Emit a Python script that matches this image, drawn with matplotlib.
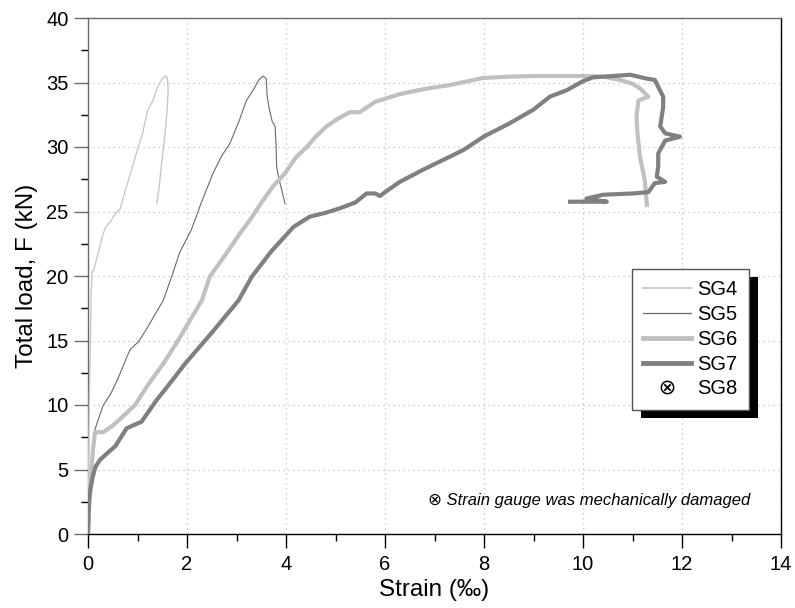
import matplotlib
matplotlib.use("Agg")
import matplotlib.pyplot as plt
from matplotlib.lines import Line2D
from matplotlib import patheffects
from matplotlib.ticker import MultipleLocator

plt.rcParams['font.family'] = ['Liberation Sans', 'DejaVu Sans']

# Strain gauge readings: strain (permille) vs total load (kN)
sg4_strain = [0, 0.01, 0.02, 0.03, 0.05, 0.06, 0.08, 0.12, 0.15, 0.22, 0.3, 0.36, 0.45,
              0.55, 0.65, 0.72, 0.8, 0.9, 1.0, 1.1, 1.2, 1.3, 1.4, 1.5, 1.56, 1.6, 1.62,
              1.6, 1.57, 1.56, 1.52, 1.48, 1.44, 1.39]
sg4_load = [0, 4, 8, 11, 15, 18, 20.3, 20.5, 21, 22, 23.2, 23.8, 24.2, 24.8, 25.2, 26.2,
            27.2, 28.5, 29.8, 31, 32.8, 33.5, 34.6, 35.3, 35.5, 35.4, 34.5, 33, 31.6,
            31.2, 29.8, 28.5, 27, 25.6]

sg5_strain = [0, 0.02, 0.05, 0.1, 0.14, 0.2, 0.31, 0.45, 0.6, 0.75, 0.85, 1.02, 1.2, 1.35,
              1.52, 1.69, 1.85, 2.09, 2.3, 2.53, 2.7, 2.87, 3.05, 3.2, 3.35, 3.45, 3.54,
              3.6, 3.62, 3.66, 3.72, 3.78, 3.8, 3.81, 3.86, 3.93, 3.98]
sg5_load = [0, 3, 5, 7, 8.1, 8.8, 10, 10.8, 12, 13.4, 14.3, 14.9, 16, 17, 18.1, 19.95,
            21.8, 23.6, 25.8, 28, 29.3, 30.3, 32, 33.6, 34.5, 35.2, 35.5, 35.3, 33.9, 33,
            32, 31.6, 30, 28.5, 27.5, 26.4, 25.6]

sg6_strain = [0, 0.02, 0.05, 0.1, 0.14, 0.22, 0.31, 0.5, 0.7, 0.95, 1.2, 1.52, 1.82, 2.05,
              2.3, 2.46, 2.75, 3.07, 3.3, 3.54, 3.75, 3.98, 4.2, 4.42, 4.6, 4.82, 5.05,
              5.29, 5.49, 5.8, 6.3, 6.8, 7.31, 7.98, 8.5, 9.0, 9.5, 10.0, 10.4, 10.75,
              11.0, 11.15, 11.32, 11.12, 11.08, 11.1, 11.15, 11.25, 11.29]
sg6_load = [0, 2, 4, 6.5, 7.85, 7.9, 7.9, 8.4, 9.1, 10, 11.5, 13.2, 15, 16.5, 18.1, 19.95,
            21.5, 23.3, 24.5, 25.9, 27, 27.96, 29.2, 30, 30.8, 31.6, 32.2, 32.7, 32.7,
            33.5, 34.1, 34.5, 34.8, 35.35, 35.45, 35.5, 35.5, 35.5, 35.45, 35.2, 34.9,
            34.55, 33.9, 33.6, 32.35, 31.06, 29.25, 27.4, 25.5]

sg7_strain = [0, 0.02, 0.05, 0.1, 0.15, 0.24, 0.4, 0.55, 0.78, 0.9, 1.08, 1.39, 1.7, 1.96,
              2.5, 3.04, 3.31, 3.7, 4.15, 4.48, 4.8, 5.09, 5.4, 5.63, 5.8, 5.9, 6.0, 6.3,
              6.8, 7.31, 7.6, 7.99, 8.5, 9.0, 9.33, 9.67, 10.0, 10.2, 10.6, 10.95, 11.29,
              11.45, 11.62, 11.62, 11.56, 11.66, 11.96, 11.66, 11.52, 11.52, 11.49, 11.66,
              11.45, 11.32, 11.02, 10.41, 10.07, 10.48, 9.74]
sg7_load = [0, 2.5, 3.5, 4.5, 5.2, 5.74, 6.3, 6.8, 8.19, 8.4, 8.7, 10.4, 11.9, 13.2, 15.6,
            18.1, 19.95, 21.9, 23.8, 24.6, 24.9, 25.25, 25.7, 26.4, 26.4, 26.2, 26.5,
            27.3, 28.3, 29.25, 29.8, 30.8, 31.8, 32.9, 33.9, 34.4, 35.1, 35.4, 35.5, 35.6,
            35.3, 35.2, 33.9, 33.1, 31.6, 31.06, 30.8, 30.5, 29.5, 28.5, 27.7, 27.3, 27.2,
            26.5, 26.4, 26.3, 26.0, 25.76, 25.76]

x_ticks = [0, 2, 4, 6, 8, 10, 12, 14]
y_ticks = [0, 5, 10, 15, 20, 25, 30, 35, 40]

fig = plt.figure(figsize=(7.95, 6.08), dpi=100)
ax = fig.add_axes([88 / 795, 1 - 534 / 608, (781 - 88) / 795, (534 - 18) / 608])

c4, c5, c6, c7 = '#c8c8c8', '#6a6a6a', '#c0c0c0', '#808080'
ax.plot(sg4_strain, sg4_load, color=c4, lw=1.0, zorder=3)
ax.plot(sg5_strain, sg5_load, color=c5, lw=0.8, zorder=3)
ax.plot(sg6_strain, sg6_load, color=c6, lw=3.0, zorder=3, solid_joinstyle='round')
ax.plot(sg7_strain, sg7_load, color=c7, lw=3.0, zorder=3, solid_joinstyle='round')

ax.set_xlim(0, 14)
ax.set_ylim(0, 40)
ax.set_xticks(x_ticks)
ax.set_yticks(y_ticks)
ax.xaxis.set_minor_locator(MultipleLocator(1))
ax.yaxis.set_minor_locator(MultipleLocator(2.5))
ax.tick_params(which='major', direction='out', length=10, width=1, labelsize=14.5, pad=5)
ax.tick_params(which='minor', direction='out', length=5, width=1)
ax.tick_params(axis='y', which='major', pad=4)
ax.grid(True, which='major', linestyle=(0, (1, 3)), color='#bdbdbd', linewidth=0.9, zorder=0)

ax.spines['left'].set_color('#6a6a6a')
ax.spines['top'].set_color('#6a6a6a')
ax.spines['bottom'].set_color('black')
ax.spines['right'].set_color('black')
for s in ax.spines.values():
    s.set_linewidth(1.0)
ax.tick_params(axis='y', colors='#6a6a6a', labelcolor='black')

ax.set_xlabel('Strain (‰)', fontsize=17.5, labelpad=4)
ax.set_ylabel('Total load, F (kN)', fontsize=17.5, labelpad=6)

handles = [
    Line2D([], [], color=c4, lw=1.3),
    Line2D([], [], color=c5, lw=0.9),
    Line2D([], [], color=c6, lw=3.5),
    Line2D([], [], color=c7, lw=3.5),
    Line2D([], [], color='black', lw=0, marker='$\\otimes$', markersize=10, markeredgewidth=0),
]
leg = ax.legend(handles, ['SG4', 'SG5', 'SG6', 'SG7', 'SG8'],
                loc='upper left', bbox_to_anchor=((632 - 88) / 693, (534 - 269) / 516),
                borderaxespad=0, fontsize=14.5, fancybox=False, framealpha=1,
                edgecolor='#555555', handlelength=2.4, handletextpad=0.3,
                borderpad=0.55, labelspacing=0.29)
leg.get_frame().set_linewidth(1.0)
leg.get_frame().set_path_effects([
    patheffects.SimplePatchShadow(offset=(6.5, -6), shadow_rgbFace='black', alpha=1.0),
    patheffects.Normal(),
])
leg.set_zorder(5)

ax.text(13.38, 2.6, '⊗ Strain gauge was mechanically damaged', fontsize=12,
        style='italic', ha='right', va='center', family=['Liberation Sans', 'DejaVu Sans'])

fig.savefig('out.png', dpi=100)
